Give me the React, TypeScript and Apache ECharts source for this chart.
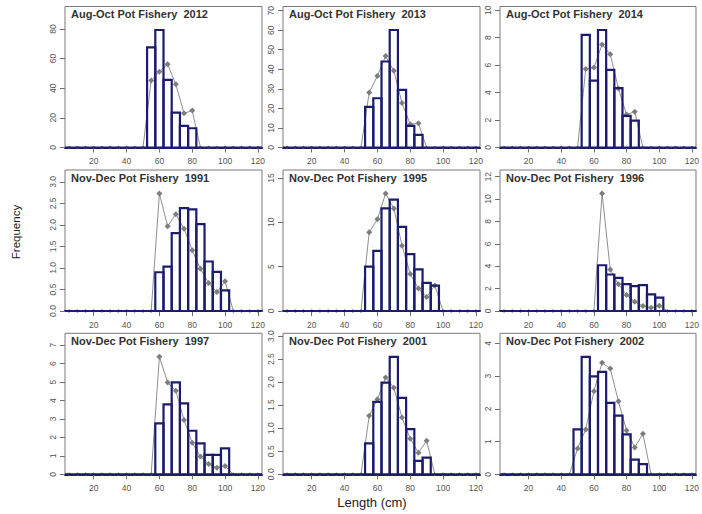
import React, { useEffect, useRef } from 'react';
import * as echarts from 'echarts';

// Length bin centres (cm)
const lengthBins = [5, 10, 15, 20, 25, 30, 35, 40, 45, 50, 55, 60, 65, 70, 75, 80, 85, 90, 95, 100, 105, 110, 115, 120];
const xTicks = [20, 40, 60, 80, 100, 120];

const panelTitles = [
  'Aug-Oct Pot Fishery  2012', 'Aug-Oct Pot Fishery  2013', 'Aug-Oct Pot Fishery  2014',
  'Nov-Dec Pot Fishery  1991', 'Nov-Dec Pot Fishery  1995', 'Nov-Dec Pot Fishery  1996',
  'Nov-Dec Pot Fishery  1997', 'Nov-Dec Pot Fishery  2001', 'Nov-Dec Pot Fishery  2002',
];

// first non-zero bin of each panel (cm)
const firstBin = [55, 55, 55, 60, 55, 65, 60, 55, 50];

// observed (histogram) frequencies, from firstBin onward; zeros elsewhere
const bars2012 = [67.6, 79.3, 45.6, 23.6, 14.6, 13.0];
const bars2013 = [20.8, 25.2, 44.0, 60.1, 29.5, 11.1, 6.5];
const bars2014 = [8.2, 4.87, 8.56, 5.65, 4.32, 2.3, 1.96];
const bars1991 = [0.9, 1.03, 1.81, 2.39, 2.36, 2.02, 1.15, 0.91, 0.48];
const bars1995 = [5.0, 6.79, 11.57, 12.57, 9.48, 6.42, 4.7, 3.17, 2.87];
const bars1996 = [4.09, 3.26, 2.96, 2.4, 2.22, 2.31, 1.48, 1.19];
const bars1997 = [2.76, 3.79, 4.98, 3.84, 2.36, 1.68, 1.05, 1.05, 1.41];
const bars2001 = [0.67, 1.57, 1.99, 2.55, 1.66, 0.98, 0.29, 0.36];
const bars2002 = [1.37, 3.59, 2.99, 3.13, 2.18, 1.79, 1.22, 0.45, 0.31];

// fitted (line) frequencies, from firstBin onward; zeros elsewhere
const line2012 = [45.2, 51.2, 56.2, 42.7, 23.1, 24.9];
const line2013 = [28.1, 36.6, 46.8, 39.2, 22.7, 11.9, 12.4];
const line2014 = [5.72, 5.82, 7.5, 6.8, 4.3, 2.4, 2.6];
const line1991 = [2.73, 1.97, 2.25, 1.91, 1.41, 0.98, 0.65, 0.44, 0.69];
const line1995 = [8.88, 10.34, 13.25, 11.57, 7.35, 4.18, 2.54, 1.57, 2.87];
const line1996 = [10.5, 3.7, 2.4, 1.42, 0.83, 0.44, 0.3, 0.47];
const line1997 = [6.37, 4.98, 4.53, 2.94, 1.71, 0.96, 0.56, 0.36, 0.45];
const line2001 = [1.27, 1.63, 2.1, 1.88, 1.23, 0.77, 0.47, 0.73];
const line2002 = [0.79, 1.37, 2.54, 3.41, 3.23, 2.23, 1.34, 0.82, 1.24];

// y tick labels per panel
const yTicks2012 = [0, 20, 40, 60, 80];
const yTicks2013 = [0, 10, 20, 30, 40, 50, 60, 70];
const yTicks2014 = [0, 2, 4, 6, 8, 10];
const yTicks1991 = [0, 0.5, 1, 1.5, 2, 2.5, 3];
const yTicks1995 = [0, 5, 10, 15];
const yTicks1996 = [0, 2, 4, 6, 8, 10, 12];
const yTicks1997 = [0, 1, 2, 3, 4, 5, 6, 7];
const yTicks2001 = [0, 0.5, 1, 1.5, 2, 2.5, 3];
const yTicks2002 = [0, 1, 2, 3, 4];

const allBars = [bars2012, bars2013, bars2014, bars1991, bars1995, bars1996, bars1997, bars2001, bars2002];
const allLines = [line2012, line2013, line2014, line1991, line1995, line1996, line1997, line2001, line2002];
const allYTicks = [yTicks2012, yTicks2013, yTicks2014, yTicks1991, yTicks1995, yTicks1996, yTicks1997, yTicks2001, yTicks2002];
const decimalLabels = [false, false, false, true, false, false, false, true, false];

const NAVY = '#1c1c6e';
const GREY = '#8f8f8f';
const FONT = '"Liberation Sans", Arial, sans-serif';
const GRID_LEFTS = [65, 283, 500];
const GRID_TOPS = [6.5, 170, 333.3];
const GW = 197;
const GH = 141;
const HALF_BIN = 2.5;

function expand(start: number, vals: number[]): number[] {
  return lengthBins.map((b) => {
    const k = Math.round((b - start) / 5);
    return k >= 0 && k < vals.length ? vals[k] : 0;
  });
}

function buildOption() {
  const grid: any[] = [];
  const xAxis: any[] = [];
  const yAxis: any[] = [];
  const series: any[] = [];
  const title: any[] = [];

  for (let i = 0; i < 9; i++) {
    const col = i % 3;
    const row = Math.floor(i / 3);
    const left = GRID_LEFTS[col];
    const top = GRID_TOPS[row];
    const bars = expand(firstBin[i], allBars[i]);
    const line = expand(firstBin[i], allLines[i]);
    const ymax = 1.2 * Math.max(...bars, ...line);
    const dec = decimalLabels[i];

    grid.push({
      left, top, width: GW, height: GH,
      show: true, borderColor: '#7a7a7a', borderWidth: 1, backgroundColor: 'transparent',
    });
    xAxis.push({
      type: 'value', gridIndex: i, min: HALF_BIN, max: 122.5,
      axisLine: { show: true, onZero: false, lineStyle: { color: NAVY, width: 2 } },
      axisTick: { show: true, customValues: xTicks, length: 5, lineStyle: { color: '#6f6f6f', width: 1 } },
      axisLabel: { customValues: xTicks, fontSize: 8.5, color: '#555', margin: 9, fontFamily: FONT },
      splitLine: { show: false },
    });
    yAxis.push({
      type: 'value', gridIndex: i, min: 0, max: ymax,
      axisLine: { show: false },
      axisTick: { show: true, customValues: allYTicks[i], length: 5, lineStyle: { color: '#6f6f6f', width: 1 } },
      axisLabel: {
        customValues: allYTicks[i], rotate: 90, fontSize: 8.5, color: '#555', margin: 8, fontFamily: FONT,
        formatter: (v: number) => (dec ? v.toFixed(1) : String(v)),
      },
      splitLine: { show: false },
    });
    series.push({
      type: 'line', xAxisIndex: i, yAxisIndex: i, z: 2,
      data: lengthBins.map((b, j) => [b, line[j]]),
      lineStyle: { color: GREY, width: 1 },
      symbol: 'diamond',
      symbolSize: (v: number[]) => (v[1] === 0 ? 4 : 6),
      itemStyle: { color: '#7d7d7d' },
      showAllSymbol: true,
    });
    series.push({
      type: 'custom', xAxisIndex: i, yAxisIndex: i, z: 3,
      encode: { x: 0, y: 1 },
      data: lengthBins.map((b, j) => [b, bars[j]]),
      renderItem: (params: any, api: any) => {
        const x = api.value(0);
        const y = api.value(1);
        const p1 = api.coord([x - HALF_BIN, y]);
        const p2 = api.coord([x + HALF_BIN, 0]);
        return {
          type: 'rect',
          shape: { x: p1[0], y: p1[1], width: p2[0] - p1[0], height: p2[1] - p1[1] },
          style: { fill: 'none', stroke: NAVY, lineWidth: 2.2 },
        };
      },
    });
    title.push({
      text: panelTitles[i], left: left + 6, top: top + 2, padding: 0,
      textStyle: { fontSize: 11, fontWeight: 'bold', color: '#333', fontFamily: FONT },
    });
  }

  return {
    animation: false,
    backgroundColor: '#ffffff',
    textStyle: { fontFamily: FONT },
    title, grid, xAxis, yAxis, series,
    graphic: [
      {
        type: 'text', x: 16, y: 232, rotation: Math.PI / 2,
        style: { text: 'Frequency', fontSize: 11.5, fill: '#222', align: 'center', verticalAlign: 'middle', fontFamily: FONT },
      },
      {
        type: 'text', x: 372, y: 502,
        style: { text: 'Length (cm)', fontSize: 13, fill: '#222', align: 'center', verticalAlign: 'middle', fontFamily: FONT },
      },
    ],
  };
}

export default function App() {
  const ref = useRef<HTMLDivElement>(null);
  useEffect(() => {
    if (!ref.current) return;
    const chart = echarts.init(ref.current, null, { renderer: 'svg' });
    chart.setOption(buildOption() as any);
    return () => chart.dispose();
  }, []);
  return <div ref={ref} style={{ position: 'fixed', left: 0, top: 0, width: 702, height: 514 }} />;
}
